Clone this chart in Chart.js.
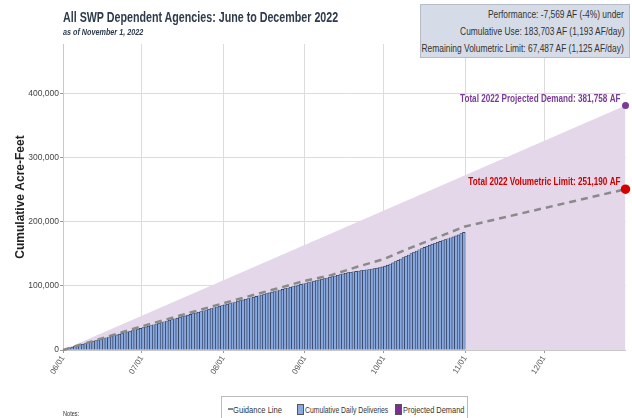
<!DOCTYPE html>
<html>
<head>
<meta charset="utf-8">
<script src="https://cdn.jsdelivr.net/npm/chart.js@4.4.1/dist/chart.umd.min.js"></script>
<style>
  body { margin: 0; background: #fff; font-family: "Liberation Sans", Arial, sans-serif; }
  #wrap { position: relative; width: 632px; height: 418px; overflow: hidden; }
  #chart { position: absolute; left: 0; top: 0; }
  .nar { position: absolute; white-space: nowrap; transform-origin: 0 0; }
  .title { left: 63px; top: 8px; font-size: 15.5px; font-weight: bold; color: #2e3b4c; transform: scaleX(0.69); }
  .sub { left: 63px; top: 26px; font-size: 9.5px; font-weight: bold; font-style: italic; color: #2e3b4c; transform: scaleX(0.76); }
  .info { position: absolute; left: 420px; top: 4px; width: 210px; height: 54px; background: #d5dce7; border: 1px solid #b5bcc6; box-sizing: border-box; }
  .info div { position: absolute; right: 5px; white-space: nowrap; font-size: 10.5px; color: #333; transform: scaleX(0.8); transform-origin: 100% 0; }
  .legend { position: absolute; left: 221px; top: 396px; width: 247px; height: 26px; border: 1px solid #bbb; box-sizing: border-box; background: #fff; }
  .legend .nar { top: 7px; font-size: 9.5px; color: #333; }
  .sw { position: absolute; top: 7px; width: 7px; height: 11px; border: 1px solid #555; box-sizing: border-box; }
  .notes { left: 63px; top: 410px; font-size: 7px; color: #333; transform: scaleX(0.8); }
</style>
</head>
<body>
<div id="wrap">
  <canvas id="chart" width="632" height="418"></canvas>
  <div class="nar title">All SWP Dependent Agencies: June to December 2022</div>
  <div class="nar sub">as of November 1, 2022</div>
  <div class="info">
    <div style="top:3px">Performance: -7,569 AF (-4%) under</div>
    <div style="top:20px">Cumulative Use: 183,703 AF (1,193 AF/day)</div>
    <div style="top:37px">Remaining Volumetric Limit: 67,487 AF (1,125 AF/day)</div>
  </div>
  <div class="legend">
    <div style="position:absolute;left:6px;top:11px;width:5px;height:2px;background:#888"></div>
    <div class="nar" style="left:11px;transform:scaleX(0.8)">Guidance Line</div>
    <div class="sw" style="left:75px;background:#8aaadf"></div>
    <div class="nar" style="left:83px;transform:scaleX(0.72)">Cumulative Daily Deliveries</div>
    <div class="sw" style="left:173px;background:#7b2f8e"></div>
    <div class="nar" style="left:181px;transform:scaleX(0.78)">Projected Demand</div>
  </div>
  <div class="nar notes">Notes:</div>
</div>
<script>
// x values are days counted from June 1 (0) to January 1 (214)
const monthStarts = [0, 30, 61, 92, 122, 153, 183];
const monthLabels = ["06/01", "07/01", "08/01", "09/01", "10/01", "11/01", "12/01"];

// cumulative deliveries, acre-feet, one value per day
const juneUse = [1100, 2300, 3400, 4500, 5700, 6800, 7900, 9100, 10200, 11300, 12400, 13600, 14700, 15800, 16900,
  18000, 19200, 20300, 21400, 22500, 23600, 24800, 25900, 27000, 28100, 29200, 30400, 31500, 32600, 33700];
const julyUse = [34900, 36000, 37200, 38300, 39500, 40600, 41800, 42900, 44100, 45200, 46400, 47500, 48700, 49800, 51000,
  52100, 53300, 54400, 55600, 56700, 57900, 59000, 60200, 61300, 62500, 63600, 64800, 65900, 67100, 68200, 69400];
const augustUse = [70500, 71600, 72700, 73800, 74900, 76000, 77100, 78200, 79300, 80400, 81500, 82600, 83700, 84800, 85900,
  87000, 88100, 89200, 90300, 91400, 92500, 93600, 94700, 95800, 96900, 98000, 99100, 100200, 101300, 102400, 103500];
const septemberUse = [104500, 105500, 106500, 107500, 108500, 109500, 110500, 111500, 112500, 113500, 114500, 115600,
  116700, 117800, 118900, 119900, 120800, 121500, 122200, 122800, 123400, 124000, 124600, 125200, 125800, 126400,
  127100, 127900, 128800, 129800];
const octoberUse = [131000, 132500, 134200, 136000, 138000, 140000, 142100, 144200, 146300, 148400, 150500, 152600,
  154600, 156500, 158400, 160200, 162000, 163700, 165300, 166800, 168200, 169600, 171000, 172400, 173800, 175200,
  176700, 178200, 179800, 181700, 183703];

const guidanceDays = [0, 30, 61, 92, 102, 112, 122, 130, 138, 153, 214];
const guidanceValues = [0, 37000, 73000, 108000, 117000, 130000, 142000, 156000, 169000, 193000, 251190];

const demandDays = [0, 214];
const demandValues = [0, 381758];

const dailyUse = [...juneUse, ...julyUse, ...augustUse, ...septemberUse, ...octoberUse];
const barPoints = dailyUse.map((v, i) => ({ x: i + 0.5, y: v }));
const guidancePoints = guidanceDays.map((d, i) => ({ x: d, y: guidanceValues[i] }));
const demandPoints = demandDays.map((d, i) => ({ x: d, y: demandValues[i] }));

const sans = "'Liberation Sans', Arial, sans-serif";
Chart.defaults.font.family = sans;

// condensed labels next to the end points
const endLabels = {
  id: "endLabels",
  afterDatasetsDraw(chart) {
    const { ctx, scales } = chart;
    const x = scales.x.getPixelForValue(214) - 5;
    const rows = [
      ["Total 2022 Projected Demand: 381,758 AF", 381758, "#7b3a96"],
      ["Total 2022 Volumetric Limit: 251,190 AF", 251190, "#cc0000"],
    ];
    ctx.save();
    ctx.font = "bold 11px " + sans;
    ctx.textAlign = "right";
    ctx.textBaseline = "middle";
    rows.forEach(([text, v, color]) => {
      ctx.save();
      ctx.translate(x, scales.y.getPixelForValue(v) - 7);
      ctx.scale(0.74, 1);
      ctx.fillStyle = color;
      ctx.fillText(text, 0, 0);
      ctx.restore();
    });
    ctx.restore();
  },
};

new Chart(document.getElementById("chart"), {
  type: "bar",
  data: {
    datasets: [
      {
        type: "line",
        label: "Guidance Line",
        data: guidancePoints,
        borderColor: "#8a8a8a",
        borderWidth: 2.5,
        borderDash: [7, 5],
        pointRadius: (c) => (c.dataIndex === guidancePoints.length - 1 ? 3.5 : 0),
        pointBackgroundColor: "#d40000",
        pointBorderColor: "#d40000",
        fill: false,
        clip: false,
        order: 1,
      },
      {
        label: "Cumulative Daily Deliveries",
        data: barPoints,
        backgroundColor: "#8aaadf",
        borderColor: "#1f2c48",
        borderWidth: 0.6,
        barPercentage: 1,
        categoryPercentage: 1,
        order: 2,
      },
      {
        type: "line",
        label: "Projected Demand",
        data: demandPoints,
        borderWidth: 0,
        borderColor: "rgba(0,0,0,0)",
        backgroundColor: "#e4d7e9",
        fill: "origin",
        pointRadius: (c) => (c.dataIndex === demandPoints.length - 1 ? 3.5 : 0),
        pointBackgroundColor: "#7b3a96",
        pointBorderColor: "#7b3a96",
        clip: false,
        order: 3,
      },
    ],
  },
  options: {
    responsive: false,
    animation: false,
    layout: { padding: { left: 0, top: 44, right: 0, bottom: 0 } },
    plugins: {
      legend: { display: false },
      tooltip: { enabled: false },
    },
    scales: {
      x: {
        type: "linear",
        min: 0,
        max: 214,
        offset: false,
        afterBuildTicks: (scale) => {
          scale.ticks = monthStarts.map((v) => ({ value: v }));
        },
        afterFit: (scale) => {
          scale.height = 68;
          scale.paddingRight = 3;
        },
        ticks: {
          autoSkip: false,
          minRotation: 58,
          maxRotation: 58,
          padding: 1,
          color: "#555",
          font: { size: 8 },
          callback: (v) => monthLabels[monthStarts.indexOf(v)],
        },
        grid: { offset: false, color: "#dcdcdc", tickLength: 3, tickColor: "#999" },
        border: { color: "#c8c8c8" },
      },
      y: {
        min: 0,
        max: 478000,
        afterBuildTicks: (scale) => {
          scale.ticks = [0, 100000, 200000, 300000, 400000].map((v) => ({ value: v }));
        },
        afterFit: (scale) => {
          scale.width = 63;
        },
        ticks: {
          padding: 1,
          color: "#444",
          font: { size: 8.5 },
          callback: (v) => v.toLocaleString("en-US"),
        },
        grid: { color: "#dcdcdc", tickLength: 3, tickColor: "#999" },
        border: { color: "#c8c8c8" },
        title: {
          display: true,
          text: "Cumulative Acre-Feet",
          color: "#222",
          font: { size: 12, weight: "bold" },
          padding: { top: 13, bottom: 0 },
        },
      },
    },
  },
  plugins: [endLabels],
});
</script>
</body>
</html>
